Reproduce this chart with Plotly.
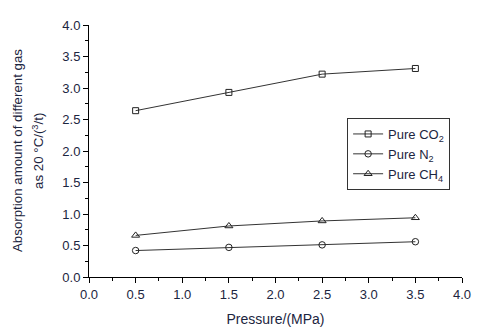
import plotly.graph_objects as go

pressure = [0.5, 1.5, 2.5, 3.5]
co2 = [2.64, 2.93, 3.22, 3.31]
n2 = [0.42, 0.47, 0.51, 0.56]
ch4 = [0.66, 0.81, 0.89, 0.94]
names = ["Pure CO<sub>2</sub>", "Pure N<sub>2</sub>", "Pure CH<sub>4</sub>"]
symbols = ["square-open", "circle-open", "triangle-up-open"]
ytitle_lines = ["Absorption amount of different gas", "as 20 °C/(<sup>3</sup>/t)"]

fig = go.Figure()
for ys, nm, sym, sz in zip([co2, n2, ch4], names, symbols, [6, 6.5, 7]):
    fig.add_trace(go.Scatter(
        x=pressure, y=ys, name=nm, mode="lines+markers",
        line=dict(color="#333333", width=1),
        marker=dict(symbol=sym, size=sz, color="#222222", line=dict(width=1, color="#222222")),
    ))

font_col = "#1c2540"
fam = "Liberation Sans, Arial"
axis_common = dict(
    showline=True, linecolor="black", linewidth=1, ticks="outside", ticklen=5,
    tickcolor="black", showgrid=False, zeroline=False, mirror=False,
    tickfont=dict(family=fam, size=13, color=font_col),
    tickformat=".1f",
)
fig.update_xaxes(range=[0, 4.0], dtick=0.5, tick0=0,
                 minor=dict(ticks="outside", dtick=0.25, ticklen=3, tickcolor="black"),
                 title=dict(text="Pressure/(MPa)", font=dict(family=fam, size=14, color=font_col), standoff=13),
                 **axis_common)
fig.update_yaxes(range=[0, 4.0], dtick=0.5, tick0=0,
                 minor=dict(ticks="outside", dtick=0.25, ticklen=3, tickcolor="black"),
                 **axis_common)
for xpos, txt in zip([-0.193, -0.137], ytitle_lines):
    fig.add_annotation(text=txt, xref="paper", yref="paper", x=xpos, y=0.5,
                       xanchor="center", yanchor="middle", textangle=-90, showarrow=False,
                       font=dict(family=fam, size=13.3, color=font_col))
fig.update_layout(
    width=480, height=331,
    margin=dict(l=89, r=18, t=25, b=54, autoexpand=False),
    paper_bgcolor="white", plot_bgcolor="white",
    showlegend=True,
    legend=dict(x=0.692, y=0.631, xanchor="left", yanchor="top",
                bordercolor="#333333", borderwidth=1, bgcolor="white",
                font=dict(family=fam, size=13, color=font_col),
                tracegroupgap=0, itemwidth=30),
)
fig.write_html("out.html", config={"displayModeBar": False},
               post_script="document.body.style.margin='0';document.body.style.padding='0';")
